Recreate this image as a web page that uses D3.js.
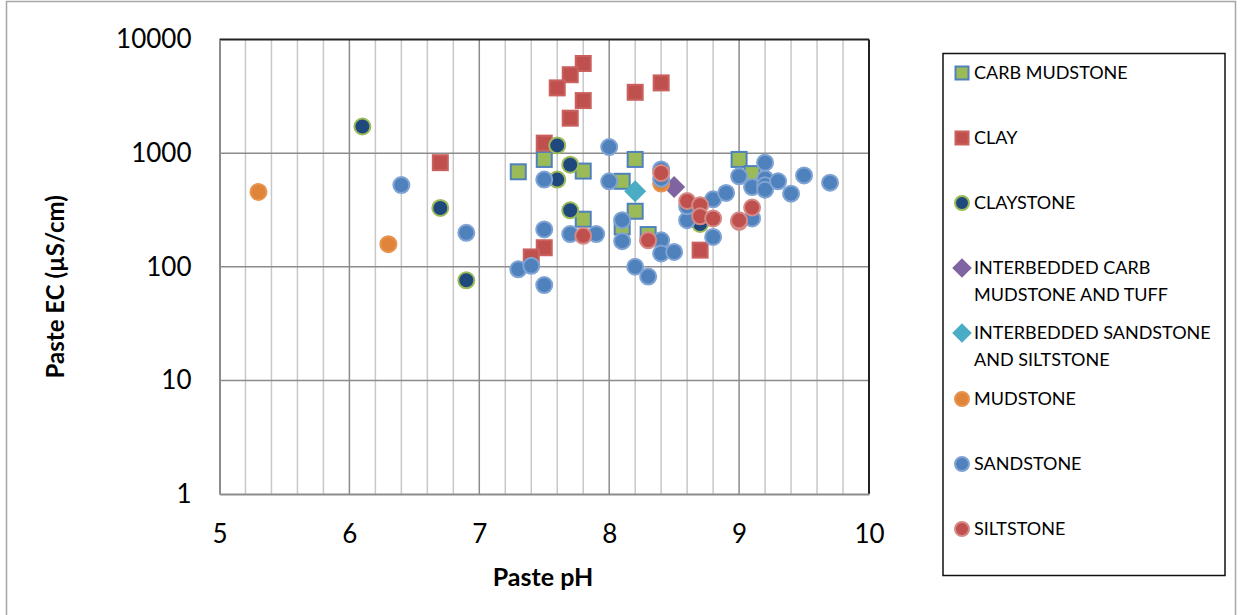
<!DOCTYPE html>
<html>
<head>
<meta charset="utf-8">
<script src="https://cdn.jsdelivr.net/npm/d3@7"></script>
<style>
  body { margin: 0; background: #fff; }
  text { font-family: Lato, "Open Sans", sans-serif; }
</style>
</head>
<body>
<div id="chart"></div>
<script>
const svgWidth = 1242;
const svgHeight = 615;

// plot area in page pixels
const plot = {left: 219.5, top: 39.5, right: 869, bottom: 494};

// data
const carbMudPH = [7.3, 7.5, 7.8, 8.2, 8.1, 7.8, 8.2, 8.1, 8.3, 9.0, 9.1];
const carbMudEC = [685, 880, 695, 880, 565, 262, 308, 224, 192, 880, 660];

const clayPH = [7.8, 7.7, 7.6, 7.8, 7.7, 8.2, 8.4, 7.5, 7.5, 7.4, 6.7, 8.7];
const clayEC = [6150, 4900, 3750, 2900, 2030, 3430, 4150, 1225, 147, 122, 824, 140];

const claystonePH = [6.1, 6.7, 6.9, 7.6, 7.7, 7.6, 7.7, 8.7];
const claystoneEC = [1715, 329, 76, 1170, 791, 585, 314, 238];

const tuffPH = [8.5];
const tuffEC = [503];

const sandSiltPH = [8.2];
const sandSiltEC = [461];

const mudstonePH = [5.3, 6.3, 8.4];
const mudstoneEC = [455, 158, 540];

const sandstonePH = [6.4, 6.9, 8.0, 7.5, 8.0, 7.5, 7.7, 7.9, 8.1, 8.1, 7.3, 7.4, 7.5, 8.2, 8.3,
    8.4, 8.4, 8.4, 8.4, 8.5, 8.6, 8.6, 8.8, 8.9, 8.8, 9.0, 9.1, 9.1, 9.2, 9.2, 9.2, 9.2,
    9.3, 9.4, 9.5, 9.7];
const sandstoneEC = [524, 199, 1130, 585, 565, 213, 194, 194, 257, 168, 95, 102, 69, 100, 82,
    171, 131, 719, 596, 135, 257, 340, 392, 446, 183, 625, 503, 266, 824, 596, 521, 477,
    565, 440, 637, 550];

const siltstonePH = [7.8, 8.3, 8.4, 8.6, 8.7, 8.7, 8.8, 9.0, 9.0, 9.1];
const siltstoneEC = [187, 171, 668, 379, 348, 278, 266, 248, 256, 332];

const xTicks = [5, 6, 7, 8, 9, 10];
const yTicks = [1, 10, 100, 1000, 10000];

const series = [
    {name: ["CARB MUDSTONE"], ph: carbMudPH, ec: carbMudEC, shape: "square", fill: "#9BBB59", stroke: "#4F81BD"},
    {name: ["CLAY"], ph: clayPH, ec: clayEC, shape: "square", fill: "#C0504D", stroke: "#C9625F"},
    {name: ["CLAYSTONE"], ph: claystonePH, ec: claystoneEC, shape: "circle", fill: "#1F497D", stroke: "#9BBB59"},
    {name: ["INTERBEDDED CARB", "MUDSTONE AND TUFF"], ph: tuffPH, ec: tuffEC, shape: "diamond", fill: "#8064A2", stroke: "#8064A2"},
    {name: ["INTERBEDDED SANDSTONE", "AND SILTSTONE"], ph: sandSiltPH, ec: sandSiltEC, shape: "diamond", fill: "#4BACC6", stroke: "#4BACC6"},
    {name: ["MUDSTONE"], ph: mudstonePH, ec: mudstoneEC, shape: "circle", fill: "#E0843A", stroke: "#E69450"},
    {name: ["SANDSTONE"], ph: sandstonePH, ec: sandstoneEC, shape: "circle", fill: "#4F81BD", stroke: "#7FA3D2"},
    {name: ["SILTSTONE"], ph: siltstonePH, ec: siltstoneEC, shape: "circle", fill: "#C0504D", stroke: "#D58A88"}
];

const x = d3.scaleLinear().domain([5, 10]).range([plot.left, plot.right]);
const y = d3.scaleLog().domain([1, 10000]).range([plot.bottom, plot.top]);

const svg = d3.select("#chart")
    .append("svg")
    .attr("width", svgWidth)
    .attr("height", svgHeight);

// outer chart border
svg.append("rect")
    .attr("x", 6.5).attr("y", 1.5)
    .attr("width", 1229).attr("height", 640)
    .attr("fill", "none")
    .attr("stroke", "#A6A6A6")
    .attr("stroke-width", 1.5);

// minor vertical gridlines every 0.2
const minor = d3.range(5.2, 10, 0.2).filter(v => Math.abs(v - Math.round(v)) > 0.01);
svg.append("g").selectAll("line")
    .data(minor)
    .join("line")
    .attr("x1", d => x(d)).attr("x2", d => x(d))
    .attr("y1", plot.top).attr("y2", plot.bottom)
    .attr("stroke", "#C8C8C8")
    .attr("stroke-width", 1.5);

// major gridlines
svg.append("g").selectAll("line")
    .data(xTicks.slice(1, -1))
    .join("line")
    .attr("x1", d => x(d)).attr("x2", d => x(d))
    .attr("y1", plot.top).attr("y2", plot.bottom)
    .attr("stroke", "#8C8C8C")
    .attr("stroke-width", 1.5);

svg.append("g").selectAll("line")
    .data(yTicks.slice(1, -1))
    .join("line")
    .attr("x1", plot.left).attr("x2", plot.right)
    .attr("y1", d => y(d)).attr("y2", d => y(d))
    .attr("stroke", "#8C8C8C")
    .attr("stroke-width", 1.5);

// plot frame: top/right dark, axes grey
svg.append("line")
    .attr("x1", plot.left).attr("x2", plot.right)
    .attr("y1", plot.top).attr("y2", plot.top)
    .attr("stroke", "#222").attr("stroke-width", 2);
svg.append("line")
    .attr("x1", plot.right).attr("x2", plot.right)
    .attr("y1", plot.top).attr("y2", plot.bottom)
    .attr("stroke", "#222").attr("stroke-width", 2);

const xAxis = svg.append("g")
    .attr("transform", `translate(0,${plot.bottom})`)
    .call(d3.axisBottom(x).tickValues(xTicks).tickSize(0).tickPadding(31).tickFormat(d3.format("d")));
const yAxis = svg.append("g")
    .attr("transform", `translate(${plot.left},0)`)
    .call(d3.axisLeft(y).tickValues(yTicks).tickSize(0).tickPadding(28).tickFormat(d3.format("d")));

[xAxis, yAxis].forEach(g => {
    g.select(".domain").attr("stroke", "#8C8C8C").attr("stroke-width", 2);
    g.selectAll("text")
        .attr("font-size", "26px")
        .attr("fill", "#000")
        .style("font-family", "Lato, sans-serif");
});

// markers
function drawMarker(sel, s, size) {
    if (s.shape === "circle") {
        sel.append("circle").attr("r", size / 2);
    } else if (s.shape === "square") {
        sel.append("rect")
            .attr("x", -size / 2).attr("y", -size / 2)
            .attr("width", size).attr("height", size);
    } else {
        const h = size * 0.6;
        sel.append("path").attr("d", `M0,${-h}L${h},0L0,${h}L${-h},0Z`);
    }
    sel.attr("fill", s.fill).attr("stroke", s.stroke).attr("stroke-width", 2);
}

series.forEach(s => {
    const g = svg.append("g");
    s.ph.forEach((p, i) => {
        const m = g.append("g").attr("transform", `translate(${x(p)},${y(s.ec[i])})`);
        drawMarker(m, s, s.shape === "square" ? 15 : 16);
    });
});

// axis titles
svg.append("text")
    .attr("x", 543)
    .attr("y", 586)
    .attr("text-anchor", "middle")
    .attr("font-size", "25px")
    .attr("font-weight", "bold")
    .text("Paste pH");

svg.append("text")
    .attr("transform", `translate(64,${(plot.top + plot.bottom) / 2 + 20}) rotate(-90)`)
    .attr("text-anchor", "middle")
    .attr("font-size", "24px")
    .attr("font-weight", "bold")
    .text("Paste EC (µS/cm)");

// legend
const legend = svg.append("g");
legend.append("rect")
    .attr("x", 943).attr("y", 53.5)
    .attr("width", 282).attr("height", 522)
    .attr("fill", "#fff")
    .attr("stroke", "#111")
    .attr("stroke-width", 1.5);

const legendY = [73, 138, 203, 268, 333, 399, 464, 529];
series.forEach((s, i) => {
    const m = legend.append("g").attr("transform", `translate(962,${legendY[i]})`);
    drawMarker(m, s, s.shape === "square" ? 13 : 14);
    const t = legend.append("text")
        .attr("x", 974)
        .attr("y", legendY[i] + 6)
        .attr("font-size", "18px")
        .attr("fill", "#000");
    s.name.forEach((line, j) => {
        t.append("tspan").attr("x", 974).attr("dy", j === 0 ? 0 : 27).text(line);
    });
});
</script>
</body>
</html>
